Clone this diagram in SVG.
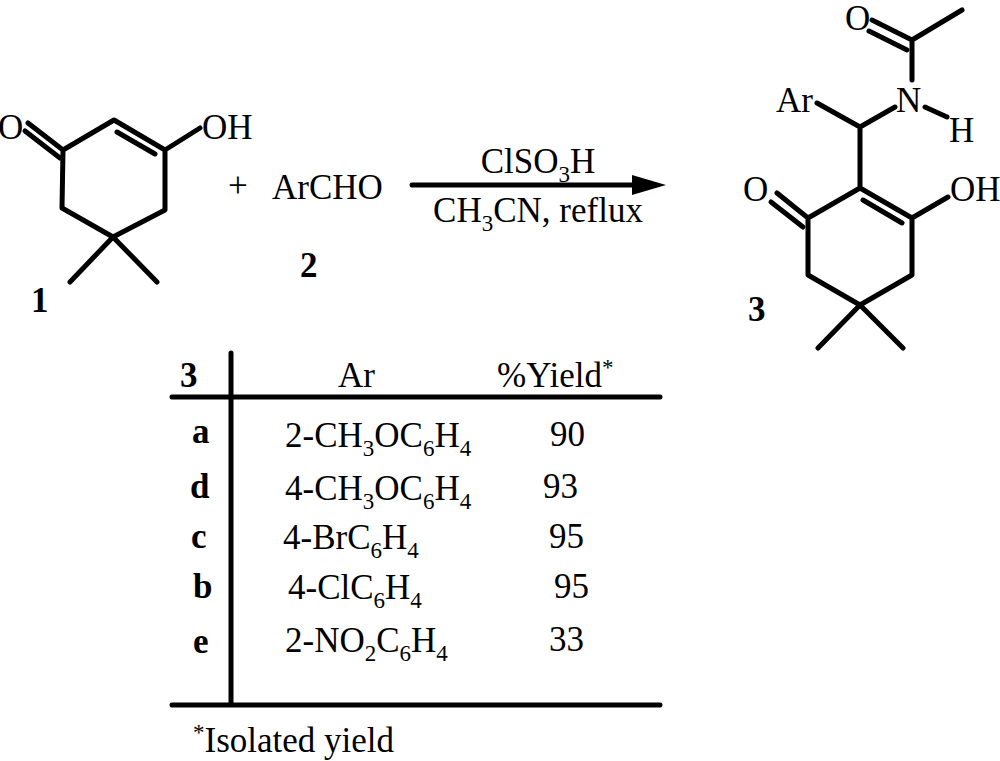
<svg xmlns="http://www.w3.org/2000/svg" width="1000" height="761" viewBox="0 0 1000 761">
<style>
.b{stroke:#000;stroke-width:5;fill:none;stroke-linecap:round;stroke-linejoin:round}
.t{font-family:"Liberation Serif",serif;font-size:35px;fill:#000}
.s{font-size:23px}
.bd{font-weight:bold}
</style>
<rect width="1000" height="761" fill="#fff"/>
<g id="mol1">
<path class="b" d="M63,150 L114,120 L165,150 L165,210 L113,237 L62,208 Z M165,150 L200,128 M63,150 L28,123 M113,237 L70,282 M113,237 L157,282"/>
<path class="b" d="M117,132 L155,154 M60,158 L25,131"/>
<text class="t" x="-2" y="139">O</text>
<text class="t" x="202" y="139">OH</text>
<text class="t bd" x="31" y="312">1</text>
</g>
<text class="t" x="228" y="197">+</text>
<g id="mol2">
<text class="t" x="272" y="199">ArCHO</text>
<text class="t bd" x="300" y="277">2</text>
</g>
<g id="connectors">
<line class="b" x1="412" y1="185" x2="640" y2="185" stroke-linecap="butt"/>
<path d="M632,175 L666,185 L632,195 Z" fill="#000"/>
<text class="t" x="538" y="173" text-anchor="middle">ClSO<tspan class="s" dy="9">3</tspan><tspan dy="-9">H</tspan></text>
<text class="t" x="538" y="222" text-anchor="middle">CH<tspan class="s" dy="9">3</tspan><tspan dy="-9">CN, reflux</tspan></text>
</g>
<g id="mol3">
<path class="b" d="M912,40 L962,10 M912,40 L912,80 M925,107 L947,117 M817,103 L860,127 L895,107 M860,127 L860,188 M860,188 L808,218 L808,275 L860,305 L912,275 L912,218 Z M912,218 L948,197 M808,218 L777,193 M860,305 L818,348 M860,305 L903,348 M912,40 L872,20"/>
<path class="b" d="M907,50 L869,31 M863,200 L902,223 M803,227 L771,202"/>
<text class="t" x="845" y="30">O</text>
<text class="t" x="896" y="112">N</text>
<text class="t" x="949" y="142">H</text>
<text class="t" x="776" y="112">Ar</text>
<text class="t" x="950" y="201">OH</text>
<text class="t" x="743" y="201">O</text>
<text class="t bd" x="748" y="321">3</text>
</g>
<g id="table">
<path class="b" d="M231,353 L231,705 M172,397 L660,397 M172,705 L660,705" stroke-linecap="butt"/>
<text class="t bd" x="180" y="387">3</text>
<text class="t" x="338" y="387">Ar</text>
<text class="t" x="497" y="387">%Yield<tspan class="s" dy="-12">*</tspan></text>
<text class="t bd" x="192" y="443">a</text>
<text class="t" x="285" y="447">2-CH<tspan class="s" dy="9">3</tspan><tspan dy="-9">OC</tspan><tspan class="s" dy="9">6</tspan><tspan dy="-9">H</tspan><tspan class="s" dy="9">4</tspan></text>
<text class="t" x="550" y="446">90</text>
<text class="t bd" x="190" y="498">d</text>
<text class="t" x="285" y="500">4-CH<tspan class="s" dy="9">3</tspan><tspan dy="-9">OC</tspan><tspan class="s" dy="9">6</tspan><tspan dy="-9">H</tspan><tspan class="s" dy="9">4</tspan></text>
<text class="t" x="543" y="498">93</text>
<text class="t bd" x="191" y="548">c</text>
<text class="t" x="283" y="549">4-BrC<tspan class="s" dy="9">6</tspan><tspan dy="-9">H</tspan><tspan class="s" dy="9">4</tspan></text>
<text class="t" x="549" y="548">95</text>
<text class="t bd" x="193" y="598">b</text>
<text class="t" x="288" y="599">4-ClC<tspan class="s" dy="9">6</tspan><tspan dy="-9">H</tspan><tspan class="s" dy="9">4</tspan></text>
<text class="t" x="554" y="598">95</text>
<text class="t bd" x="193" y="653">e</text>
<text class="t" x="285" y="652">2-NO<tspan class="s" dy="9">2</tspan><tspan dy="-9">C</tspan><tspan class="s" dy="9">6</tspan><tspan dy="-9">H</tspan><tspan class="s" dy="9">4</tspan></text>
<text class="t" x="549" y="651">33</text>
<text class="t" x="193" y="752"><tspan class="s" dy="-12">*</tspan><tspan dy="12">Isolated yield</tspan></text>
</g>
</svg>
